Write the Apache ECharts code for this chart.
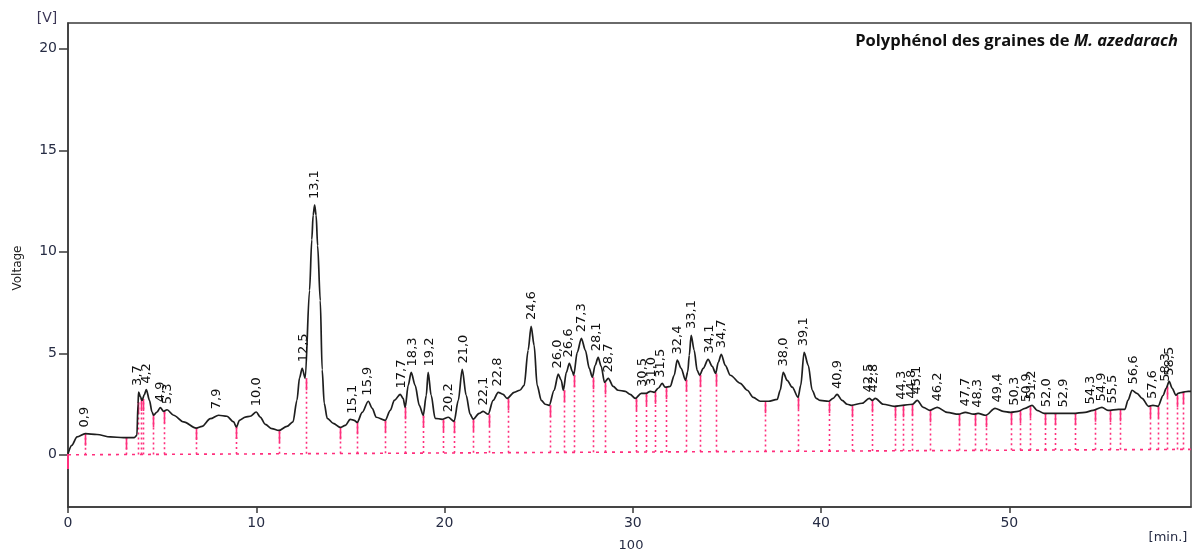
<!DOCTYPE html>
<html><head><meta charset="utf-8">
<script src="https://cdn.jsdelivr.net/npm/echarts@6/dist/echarts.min.js"></script>
<style>html,body{margin:0;padding:0;background:#fff}#c{width:1202px;height:554px}</style>
</head><body><div id="c"></div>
<script>
// Chromatogram trace (time in min, voltage in V)
const traceTime = [0,0.2,0.48,0.92,1.54,2.25,2.95,3.52,3.66,3.72,3.75,3.85,3.93,4.05,4.16,4.33,4.46,4.55,4.73,4.9,5.08,5.26,5.61,6.14,6.81,7.12,7.56,8.0,8.44,8.8,8.94,9.11,9.42,9.68,10.0,10.21,10.48,10.83,11.19,11.63,11.95,12.16,12.3,12.44,12.6,12.83,12.95,13.02,13.1,13.18,13.26,13.4,13.5,13.61,13.77,14.09,14.46,14.73,14.99,15.2,15.36,15.63,15.95,16.16,16.37,16.85,17.12,17.33,17.65,17.8,17.91,18.07,18.23,18.44,18.66,18.87,19.03,19.13,19.29,19.5,19.88,20.2,20.51,20.73,20.94,21.15,21.36,21.52,21.84,22.05,22.32,22.58,22.85,23.11,23.32,23.7,24.0,24.23,24.44,24.6,24.76,24.92,25.14,25.35,25.56,25.82,26.04,26.2,26.31,26.47,26.63,26.79,26.86,27.05,27.27,27.48,27.69,27.85,28.0,28.16,28.32,28.5,28.7,28.96,29.22,29.6,29.86,30.13,30.45,30.71,30.93,31.14,31.35,31.56,31.72,31.99,32.2,32.36,32.57,32.8,32.92,33.0,33.1,33.26,33.42,33.55,33.74,34.0,34.22,34.4,34.54,34.7,34.91,35.18,35.71,36.08,36.4,36.77,37.2,37.67,37.83,37.99,38.2,38.47,38.78,38.92,39.1,39.32,39.53,39.74,39.95,40.4,40.64,40.85,41.12,41.39,41.6,42.18,42.56,42.72,42.88,43.31,43.89,44.32,44.85,45.11,45.43,45.78,46.17,46.7,47.3,47.66,48.1,48.34,48.75,49.24,49.67,50.06,50.46,50.84,51.21,51.47,51.85,52.32,53.38,54.02,54.45,54.92,55.24,55.8,56.14,56.3,56.52,56.78,57.05,57.4,57.63,57.9,58.17,58.33,58.49,58.65,58.85,58.97,59.18,59.5,59.65];
const traceVolt = [0.05,0.47,0.88,1.04,1.0,0.88,0.85,0.85,0.96,2.52,3.09,2.85,2.68,2.95,3.21,2.68,2.11,1.95,2.11,2.32,2.14,2.22,1.95,1.62,1.32,1.4,1.78,1.95,1.9,1.62,1.37,1.7,1.86,1.9,2.11,1.86,1.5,1.29,1.2,1.4,1.62,2.68,3.8,4.26,3.77,8.1,10.6,11.8,12.3,11.8,10.3,7.6,4.2,2.54,1.8,1.55,1.35,1.45,1.75,1.7,1.6,2.09,2.64,2.29,1.85,1.7,2.19,2.68,2.98,2.78,2.34,3.42,4.06,3.42,2.44,1.95,2.93,4.06,2.93,1.8,1.75,1.85,1.65,2.68,4.21,2.93,2.0,1.75,2.04,2.14,2.0,2.68,3.08,2.98,2.78,3.08,3.18,3.42,5.15,6.33,5.39,3.42,2.68,2.49,2.44,3.18,3.97,3.67,3.18,4.06,4.51,4.11,3.92,5.05,5.74,5.15,4.26,3.82,4.41,4.8,4.36,3.57,3.77,3.37,3.18,3.13,2.98,2.78,3.03,3.03,3.13,3.08,3.28,3.52,3.33,3.37,3.92,4.66,4.26,3.67,4.1,4.9,5.89,5.15,4.16,3.92,4.26,4.7,4.36,4.01,4.56,4.95,4.41,3.92,3.52,3.18,2.83,2.64,2.64,2.73,3.18,4.06,3.67,3.33,2.83,3.42,5.05,4.41,3.18,2.78,2.68,2.64,2.78,2.98,2.68,2.49,2.44,2.54,2.78,2.68,2.78,2.49,2.39,2.44,2.49,2.68,2.34,2.19,2.34,2.09,2.0,2.09,2.0,2.04,1.95,2.29,2.14,2.09,2.14,2.29,2.44,2.19,2.04,2.04,2.04,2.09,2.19,2.34,2.19,2.24,2.24,2.68,3.18,3.03,2.78,2.39,2.44,2.39,2.93,3.28,3.62,3.28,2.93,3.03,3.08,3.13,3.13];

// Peak labels (retention time) and the apex height they sit on
const peakTimes = [0.9,3.7,4.2,4.9,5.3,7.9,10.0,12.5,13.1,15.1,15.9,17.7,18.3,19.2,20.2,21.0,22.1,22.8,24.6,26.0,26.6,27.3,28.1,28.7,30.5,31.0,31.5,32.4,33.1,34.1,34.7,38.0,39.1,40.9,42.5,42.8,44.3,44.8,45.1,46.2,47.7,48.3,49.4,50.3,50.9,51.2,52.0,52.9,54.3,54.9,55.5,56.6,57.6,58.3,58.5];
const peakHeights = [1.05,3.1,3.2,2.3,2.2,1.95,2.1,4.26,12.3,1.73,2.62,2.97,4.06,4.06,1.8,4.2,2.13,3.07,6.34,3.96,4.5,5.74,4.8,3.76,3.05,3.1,3.5,4.65,5.9,4.7,4.95,4.06,5.05,2.95,2.77,2.77,2.42,2.47,2.67,2.33,2.08,2.02,2.28,2.12,2.3,2.43,2.05,2.04,2.18,2.33,2.22,3.17,2.45,3.3,3.6];

// Peak boundary markers (time, curve height at the cut)
const cutTimes = [0.92,3.09,3.74,3.87,3.97,4.54,5.11,6.78,8.94,11.19,12.62,14.46,15.37,16.86,17.92,18.87,19.9,20.52,21.52,22.34,23.35,25.58,26.33,26.86,27.86,28.52,30.15,30.72,31.17,31.74,32.82,33.56,34.4,37.04,38.8,40.44,41.63,42.7,43.92,44.34,44.84,45.8,47.32,48.19,48.78,50.1,50.58,51.12,51.88,52.41,53.47,54.57,55.33,55.87,57.46,57.91,58.4,58.88,59.24];
const cutTops = [1.04,0.85,2.6,2.75,2.75,1.95,2.15,1.32,1.37,1.2,3.77,1.35,1.6,1.7,2.34,1.95,1.75,1.65,1.75,2.0,2.78,2.44,3.18,3.92,3.82,3.57,2.78,3.03,3.1,3.33,3.7,3.92,4.01,2.64,2.83,2.64,2.44,2.68,2.39,2.44,2.49,2.19,2.0,2.0,1.95,2.09,2.16,2.4,2.04,2.04,2.04,2.22,2.2,2.24,2.4,2.39,3.4,2.95,3.08];

const baselineTimes = [0, 59.65];
const baselineVolts = [0, 0.27];
const xTicks = [0,10,20,30,40,50];
const yTicks = [0,5,10,15,20];

const PINK = '#ff2f7d';
function baseAt(t){
  return baselineVolts[0] + (baselineVolts[1]-baselineVolts[0])*(t-baselineTimes[0])/(baselineTimes[1]-baselineTimes[0]);
}
function fmt(t){ return t.toFixed(1).replace('.', ','); }

const chart = echarts.init(document.getElementById('c'), null, {renderer:'canvas'});
chart.setOption({
  animation:false,
  backgroundColor:'#ffffff',
  grid:{left:68,top:23,right:11,bottom:47,show:true,borderColor:'#3a3a3a',borderWidth:1.5,backgroundColor:'#ffffff'},
  xAxis:{type:'value',min:0,max:59.65,interval:10,
    axisLine:{show:true,onZero:false,lineStyle:{color:'#3a3a3a',width:1.5}},
    axisTick:{show:true,inside:false,length:6,customValues:xTicks,lineStyle:{color:'#3a3a3a',width:1.5}},
    axisLabel:{customValues:xTicks,color:'#262c44',fontFamily:'DejaVu Sans',fontSize:14,margin:9},
    splitLine:{show:false}},
  yAxis:{type:'value',min:-2.57,max:21.27,
    axisLine:{show:true,onZero:false,lineStyle:{color:'#3a3a3a',width:1.5}},
    axisTick:{show:true,inside:false,length:9,customValues:yTicks,lineStyle:{color:'#3a3a3a',width:1.5}},
    axisLabel:{customValues:yTicks,color:'#262c44',fontFamily:'DejaVu Sans',fontSize:14,margin:11},
    splitLine:{show:false}},
  graphic:[
    {type:'text',x:1178,y:41,style:{text:'{a|Polyphénol des graines de }{b|M. azedarach}',align:'right',verticalAlign:'middle',
      rich:{a:{fontFamily:'Open Sans',fontWeight:'bold',fontSize:16.5,fill:'#111'},b:{fontFamily:'Open Sans',fontWeight:'bold',fontStyle:'italic',fontSize:16.5,fill:'#111'}}}},
    {type:'text',x:18,y:268,rotation:Math.PI/2,style:{text:'Voltage',font:'12px "DejaVu Sans"',fill:'#222',align:'center',verticalAlign:'middle'}},
    {type:'text',x:47,y:18,style:{text:'[V]',font:'14px "DejaVu Sans"',fill:'#3b3656',align:'center',verticalAlign:'middle'}},
    {type:'text',x:1168,y:538,style:{text:'[min.]',font:'13px "DejaVu Sans"',fill:'#262c44',align:'center',verticalAlign:'middle'}},
    {type:'text',x:631,y:546,style:{text:'100',font:'13px "DejaVu Sans"',fill:'#262c44',align:'center',verticalAlign:'middle'}}
  ],
  series:[
    {type:'line',data:baselineTimes.map((t,i)=>[t,baselineVolts[i]]),showSymbol:false,silent:true,z:1,
      lineStyle:{color:PINK,width:1.6,type:[3,5]}},
    {type:'line',data:[[0,0.05],[0,-0.7]],showSymbol:false,silent:true,z:1,lineStyle:{color:PINK,width:2}},
    {type:'custom',z:2,silent:true,
      data:cutTimes.map((t,i)=>[t,cutTops[i],baseAt(t)]),
      renderItem:function(params,api){
        const top = api.coord([api.value(0),api.value(1)]);
        const bot = api.coord([api.value(0),api.value(2)]);
        const x = Math.round(top[0])+0.5;
        return {type:'group',children:[
          {type:'line',shape:{x1:x,y1:bot[1],x2:x,y2:top[1]},style:{stroke:PINK,lineWidth:1.6,lineDash:[2,3]}},
          {type:'line',shape:{x1:x,y1:Math.min(bot[1],top[1]+12),x2:x,y2:top[1]},style:{stroke:PINK,lineWidth:1.6}}
        ]};
      }},
    {type:'line',z:3,data:traceTime.map((t,i)=>[t,traceVolt[i]]),showSymbol:false,silent:true,
      smooth:0.3,smoothMonotone:'x',lineStyle:{color:'#1e1e1e',width:1.7}},
    {type:'custom',z:4,silent:true,
      data:peakTimes.map((t,i)=>[t,peakHeights[i]]),
      renderItem:function(params,api){
        const p = api.coord([api.value(0),api.value(1)]);
        return {type:'text',x:p[0],y:p[1]-6,rotation:Math.PI/2,
          style:{text:fmt(peakTimes[params.dataIndex]),x:0,y:0,align:'left',verticalAlign:'middle',
            font:'13px "DejaVu Sans"',fill:'#111'}};
      }}
  ]
});
</script></body></html>
